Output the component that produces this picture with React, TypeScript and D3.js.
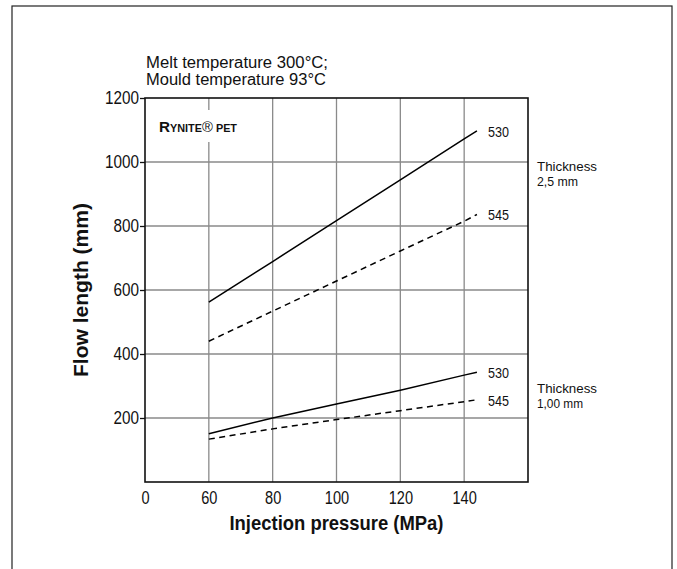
import React, { useEffect, useRef } from 'react';
import * as d3 from 'd3';

// injection pressure (MPa) sample points along each curve
const pressure = [60, 80, 100, 120, 140, 144];

// flow length (mm), thickness 2,5 mm
const thick25Grade530 = [562, 689, 817, 944, 1072, 1097];
const thick25Grade545 = [440, 534, 628, 722, 815, 836];

// flow length (mm), thickness 1,00 mm
const thick100Grade530 = [151, 200, 244, 287, 334, 343];
const thick100Grade545 = [134, 166, 195, 223, 251, 257];

// x axis is broken: the "0" label sits one grid step left of 60
const xTickValues = [40, 60, 80, 100, 120, 140];
const xTickLabels = ['0', '60', '80', '100', '120', '140'];
const yTickValues = [200, 400, 600, 800, 1000, 1200];

const series = [
  { name: '530', values: thick25Grade530, dashed: false },
  { name: '545', values: thick25Grade545, dashed: true },
  { name: '530', values: thick100Grade530, dashed: false },
  { name: '545', values: thick100Grade545, dashed: true },
];

const FONT = '"Liberation Sans", Arial, sans-serif';

// the original uses a condensed face; squeeze regular glyphs to match widths
const squeeze = (sel: any, w: (d: any, i: number) => number) =>
  sel.attr('textLength', w).attr('lengthAdjust', 'spacingAndGlyphs');

const App: React.FC = () => {
  const svgRef = useRef<SVGSVGElement>(null);

  useEffect(() => {
    const svg = d3.select(svgRef.current);
    svg.selectAll('*').remove();

    const margin = { top: 98, left: 145 };
    const width = 383;
    const height = 384;

    // outer frame
    svg.append('rect')
      .attr('x', 12).attr('y', 6)
      .attr('width', 660).attr('height', 600)
      .attr('fill', 'white')
      .attr('stroke', '#222')
      .attr('stroke-width', 1.2);

    const g = svg.append('g')
      .attr('transform', `translate(${margin.left},${margin.top})`);

    const x = d3.scaleLinear().domain([40, 160]).range([0, width]);
    const y = d3.scaleLinear().domain([0, 1200]).range([height, 0]);

    // grid
    g.selectAll('.hgrid')
      .data(yTickValues.filter(v => v < 1200))
      .join('line')
      .attr('x1', 0).attr('x2', width)
      .attr('y1', d => y(d)).attr('y2', d => y(d))
      .attr('stroke', '#8a8a8a')
      .attr('stroke-width', 1.3);

    g.selectAll('.vgrid')
      .data(xTickValues.filter(v => v > 40))
      .join('line')
      .attr('x1', d => x(d)).attr('x2', d => x(d))
      .attr('y1', 0).attr('y2', height)
      .attr('stroke', '#8a8a8a')
      .attr('stroke-width', 1.3);

    // plot frame
    g.append('rect')
      .attr('width', width).attr('height', height)
      .attr('fill', 'none')
      .attr('stroke', '#111')
      .attr('stroke-width', 1.6);

    // y axis ticks + labels
    const yAxis = g.append('g')
      .call(d3.axisLeft(y).tickValues(yTickValues).tickSize(5).tickPadding(1).tickFormat(d3.format('d')));
    yAxis.select('.domain').remove();
    yAxis.selectAll('line').attr('stroke', '#111').attr('stroke-width', 1.3);
    squeeze(yAxis.selectAll('text'), (d: any) => String(d).length * 8.5)
      .attr('fill', '#111')
      .style('font-family', FONT)
      .style('font-size', '18px');

    // x axis labels only
    const xAxis = g.append('g')
      .attr('transform', `translate(0,${height})`)
      .call(d3.axisBottom(x).tickValues(xTickValues).tickSize(0).tickPadding(9)
        .tickFormat((d, i) => xTickLabels[i]));
    xAxis.select('.domain').remove();
    squeeze(xAxis.selectAll('text'), (_: any, i: number) => xTickLabels[i].length * 8.1)
      .attr('fill', '#111')
      .style('font-family', FONT)
      .style('font-size', '18px');

    // lines
    const line = d3.line<number>()
      .x((_, i) => x(pressure[i]))
      .y(d => y(d));

    g.selectAll('.curve')
      .data(series)
      .join('path')
      .attr('d', d => line(d.values))
      .attr('fill', 'none')
      .attr('stroke', '#000')
      .attr('stroke-width', 1.5)
      .attr('stroke-dasharray', d => (d.dashed ? '6,4.5' : null));

    // end labels
    squeeze(
      g.selectAll('.endlabel')
        .data(series)
        .join('text')
        .attr('x', x(pressure[pressure.length - 1]) + 11)
        .attr('y', d => y(d.values[d.values.length - 1]) + 6),
      () => 21,
    )
      .style('font-family', FONT)
      .style('font-size', '15.5px')
      .attr('fill', '#111')
      .text(d => d.name);

    // thickness annotations
    const thick = [
      { lines: ['Thickness', '2,5 mm'], widths: [60, 41], y: 72.7 },
      { lines: ['Thickness', '1,00 mm'], widths: [60, 46], y: 294.7 },
    ];
    thick.forEach(t => {
      const txt = g.append('text')
        .attr('x', width + 9)
        .attr('y', t.y)
        .style('font-family', FONT)
        .style('font-size', '13.5px')
        .attr('fill', '#111');
      t.lines.forEach((l, i) => {
        txt.append('tspan')
          .attr('x', width + 9)
          .attr('dy', i === 0 ? 0 : 15)
          .attr('textLength', t.widths[i])
          .attr('lengthAdjust', 'spacingAndGlyphs')
          .text(l);
      });
    });

    // product label with white backing
    g.append('rect')
      .attr('x', 10).attr('y', 12)
      .attr('width', 85).attr('height', 32)
      .attr('fill', 'white');
    const brand = g.append('text')
      .attr('x', 14).attr('y', 33.5)
      .attr('fill', '#111')
      .style('font-family', FONT)
      .style('font-weight', 'bold')
      .attr('textLength', 78)
      .attr('lengthAdjust', 'spacingAndGlyphs');
    brand.append('tspan').style('font-size', '15.5px').text('R');
    brand.append('tspan').style('font-size', '11px').text('YNITE');
    brand.append('tspan').style('font-size', '15px').style('font-weight', 'normal').text('®');
    brand.append('tspan').style('font-size', '11px').text(' PET');

    // conditions
    const cond = svg.append('text')
      .attr('x', 146).attr('y', 67.5)
      .attr('fill', '#111')
      .style('font-family', FONT)
      .style('font-size', '16px');
    cond.append('tspan').attr('x', 146)
      .attr('textLength', 182).attr('lengthAdjust', 'spacingAndGlyphs')
      .text('Melt temperature 300°C;');
    cond.append('tspan').attr('x', 146).attr('dy', 17)
      .attr('textLength', 180).attr('lengthAdjust', 'spacingAndGlyphs')
      .text('Mould temperature 93°C');

    // axis titles
    svg.append('text')
      .attr('x', margin.left + width / 2 - 107)
      .attr('y', 530)
      .attr('fill', '#111')
      .style('font-family', FONT)
      .style('font-weight', 'bold')
      .style('font-size', '21px')
      .attr('textLength', 214)
      .attr('lengthAdjust', 'spacingAndGlyphs')
      .text('Injection pressure (MPa)');

    svg.append('text')
      .attr('transform', `translate(88,${margin.top + height / 2 + 87}) rotate(-90)`)
      .attr('fill', '#111')
      .style('font-family', FONT)
      .style('font-weight', 'bold')
      .style('font-size', '20px')
      .attr('textLength', 174)
      .attr('lengthAdjust', 'spacingAndGlyphs')
      .text('Flow length (mm)');
  }, []);

  return (
    <svg
      ref={svgRef}
      width={677}
      height={569}
      style={{ position: 'absolute', left: 0, top: 0, background: 'white' }}
    />
  );
};

export default App;
